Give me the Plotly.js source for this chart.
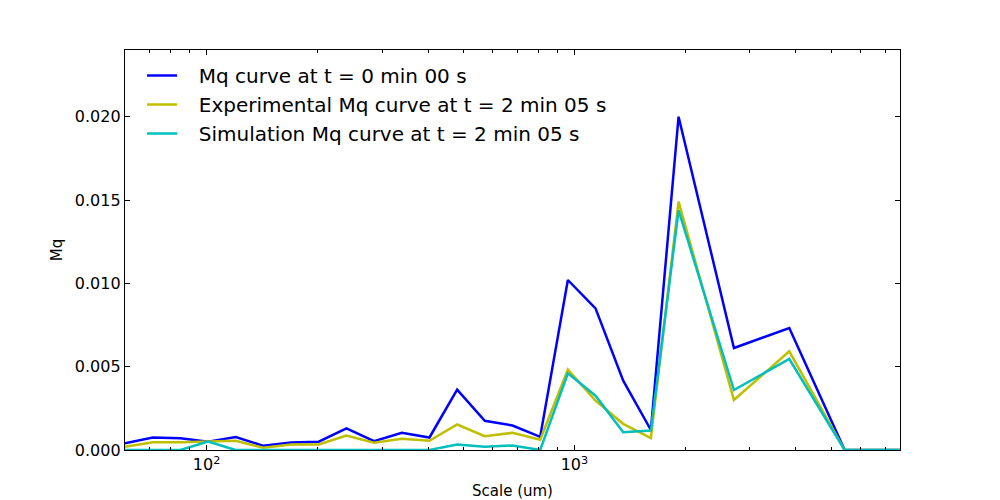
<!DOCTYPE html>
<html>
<head>
<meta charset="utf-8">
<script src="https://cdn.plot.ly/plotly-3.0.1.min.js"></script>
<style>html,body{margin:0;padding:0;background:#fff;}#chart{width:1000px;height:500px;}</style>
</head>
<body>
<div id="chart"></div>
<script>
const scale = [60, 71.4, 84.9, 100.9, 120, 142.7, 169.7, 201.8, 240, 285.4, 339.4, 403.6, 480, 570.8, 678.8, 807.3, 960, 1141.6, 1357.6, 1614.5, 1920, 2715.3, 3840, 5430.6, 7680];
const mqT0 = [0.0004, 0.00075, 0.0007, 0.0005, 0.00078, 0.00025, 0.00045, 0.0005, 0.0013, 0.00053, 0.00103, 0.00075, 0.00362, 0.00175, 0.00147, 0.00079, 0.0102, 0.0085, 0.00416, 0.0012, 0.0200, 0.00612, 0.00732, 0.0, 0.0];
const mqExp = [0.0002, 0.00047, 0.00047, 0.0005, 0.00055, 0.00013, 0.00033, 0.00033, 0.00087, 0.00043, 0.00067, 0.00055, 0.00153, 0.00083, 0.00103, 0.00061, 0.00482, 0.00296, 0.00157, 0.00071, 0.0149, 0.0030, 0.00592, 0.0, 0.0];
const mqSim = [0.0, 0.0, 0.0, 0.0005, 0.0, 0.0, 0.0, 0.0, 0.0, 0.0, 0.0, 0.0, 0.00033, 0.0002, 0.00027, 0.0, 0.0046, 0.00326, 0.00107, 0.00117, 0.01438, 0.0036, 0.00546, 0.0, 0.0];
const seriesNames = ["Mq curve at t = 0 min 00 s", "Experimental Mq curve at t = 2 min 05 s", "Simulation Mq curve at t = 2 min 05 s"];
const xMajorVals = [100, 1000];
const xMajorText = ["10<sup>2</sup>", "10<sup>3</sup>"];
const xMinorVals = [70, 80, 90, 200, 300, 400, 500, 600, 700, 800, 900, 2000, 3000, 4000, 5000, 6000, 7000];
const yTickVals = [0, 0.005, 0.010, 0.015, 0.020];

const colors = ["#0000ff", "#bfbf00", "#00bfbf"];
const ys = [mqT0, mqExp, mqSim];
const pad = "\u00a0\u00a0\u2009";
const traces = ys.map((y, i) => ({
  x: scale, y: y, type: "scatter", mode: "lines", name: pad + seriesNames[i],
  line: {color: colors[i], width: 2.5}
}));

const font = "DejaVu Sans, sans-serif";
const layout = {
  width: 1000, height: 500,
  margin: {l: 125, r: 100, t: 50, b: 50},
  paper_bgcolor: "#ffffff", plot_bgcolor: "#ffffff",
  font: {family: font, size: 16, color: "#000"},
  showlegend: true,
  legend: {x: 0.022, y: 0.985, xanchor: "left", yanchor: "top", bgcolor: "rgba(0,0,0,0)", borderwidth: 0,
           font: {family: font, size: 20, color: "#000"}, tracegroupgap: 0, itemwidth: 30},
  xaxis: {
    type: "log", range: [Math.log10(60), Math.log10(7680)],
    tickmode: "array", tickvals: xMajorVals, ticktext: xMajorText,
    ticks: "inside", ticklen: 5, tickwidth: 1, tickcolor: "#000",
    minor: {tickmode: "array", tickvals: xMinorVals, ticks: "inside", ticklen: 3, tickwidth: 1, tickcolor: "#000", showgrid: false},
    showline: true, linecolor: "#000", linewidth: 1.2, mirror: "ticks",
    showgrid: false, zeroline: false,
    tickfont: {family: font, size: 16},
    title: {text: "Scale (um)", font: {family: font, size: 15}, standoff: 13}
  },
  yaxis: {
    range: [0, 0.024],
    tickmode: "array", tickvals: yTickVals, tickformat: ".3f",
    ticks: "inside", ticklen: 5, tickwidth: 1, tickcolor: "#000",
    showline: true, linecolor: "#000", linewidth: 1.2, mirror: "ticks",
    showgrid: false, zeroline: false,
    tickfont: {family: font, size: 16},
    title: {text: "Mq", font: {family: font, size: 15}, standoff: 8}
  }
};
Plotly.newPlot("chart", traces, layout, {displayModeBar: false, staticPlot: true});
</script>
</body>
</html>
